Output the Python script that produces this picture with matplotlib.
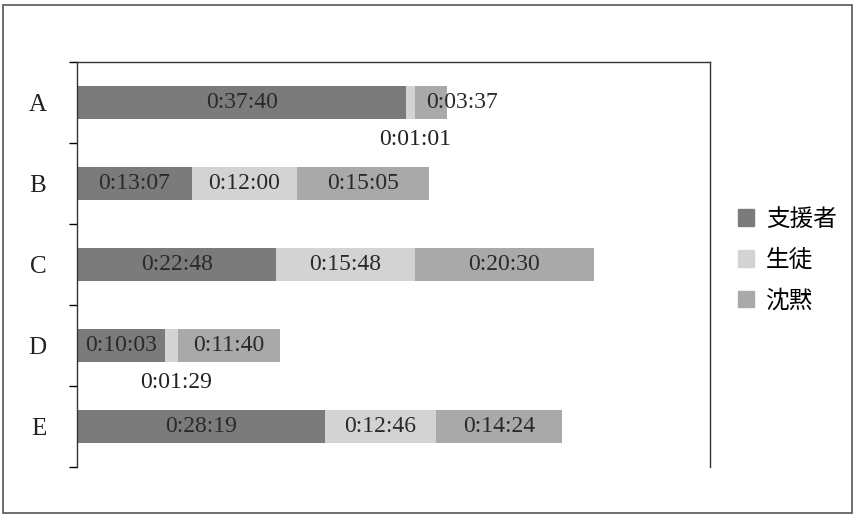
import matplotlib.pyplot as plt
import matplotlib.patches as mpatches
from matplotlib.ticker import FixedLocator, NullFormatter

# talk time per group (h:mm:ss)
categories = ["A", "B", "C", "D", "E"]
supporter = ["0:37:40", "0:13:07", "0:22:48", "0:10:03", "0:28:19"]
student = ["0:01:01", "0:12:00", "0:15:48", "0:01:29", "0:12:46"]
silence = ["0:03:37", "0:15:05", "0:20:30", "0:11:40", "0:14:24"]
series_names = ["支援者", "生徒", "沈黙"]
colors = ["#7b7b7b", "#d3d3d3", "#a9a9a9"]
x_max = 4340  # seconds


def to_sec(s):
    h, m, sec = (int(v) for v in s.split(":"))
    return h * 3600 + m * 60 + sec


series = [supporter, student, silence]

plt.rcParams["font.family"] = ["Liberation Serif", "DejaVu Serif"]

fig = plt.figure(figsize=(8.55, 5.15), dpi=100)
ax = fig.add_axes([0.090, 0.093, 0.740, 0.787])

ys = list(range(len(categories)))
bar_h = 0.41
left = [0] * len(categories)
for name, vals, col in zip(series_names, series, colors):
    secs = [to_sec(v) for v in vals]
    ax.barh(ys, secs, left=left, height=bar_h, color=col, label=name, linewidth=0)
    for i, (lab, w, l) in enumerate(zip(vals, secs, left)):
        if w < 120:
            # narrow segment: put the label under the bar
            ax.text(l + w / 2 + 30, i + 0.46, lab, ha="center", va="center",
                    fontsize=17, color="#222222")
        elif w < 300:
            ax.text(l + 75, i, lab, ha="left", va="center",
                    fontsize=17, color="#2a2a2a")
        else:
            ax.text(l + w / 2, i, lab, ha="center", va="center",
                    fontsize=17, color="#2a2a2a")
    left = [a + b for a, b in zip(left, secs)]

ax.set_xlim(0, x_max)
ax.set_ylim(len(categories) - 0.5, -0.5)
ax.set_yticks(ys)
ax.set_yticklabels(categories, fontsize=18, color="#222222")
ax.tick_params(axis="y", which="major", length=0, pad=22)
ax.yaxis.set_minor_locator(FixedLocator([i - 0.5 for i in range(len(categories) + 1)]))
ax.yaxis.set_minor_formatter(NullFormatter())
ax.tick_params(axis="y", which="minor", length=6, width=1, direction="out")
ax.set_xticks([])

for side in ["left", "top", "right"]:
    ax.spines[side].set_color("#333333")
    ax.spines[side].set_linewidth(1.0)
ax.spines["bottom"].set_visible(False)

handles = [mpatches.Patch(color=c) for c in colors]
fig.legend(handles, series_names, loc="center left", bbox_to_anchor=(0.838, 0.495),
           frameon=False, handlelength=0.7, handleheight=0.7, handletextpad=0.5,
           labelspacing=0.75, prop={"family": ["Noto Sans CJK JP"], "size": 17})

# outer frame
fig.patches.append(mpatches.Rectangle((0.004, 0.004), 0.992, 0.986, transform=fig.transFigure,
                                      fill=False, edgecolor="#555555", linewidth=1.2))

fig.savefig("out.png", dpi=100)
